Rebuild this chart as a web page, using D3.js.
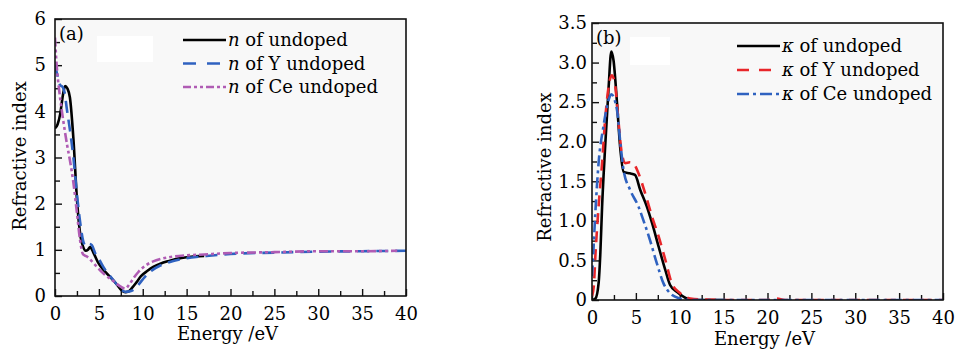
<!DOCTYPE html>
<html>
<head>
<meta charset="utf-8">
<script src="https://cdn.jsdelivr.net/npm/d3@7"></script>
<style>
  body { margin: 0; background: #fff; }
  svg { display: block; font-family: "DejaVu Serif", serif; }
</style>
</head>
<body>
<div class="mainDiv"></div>
<script>
// panel (a) : refractive index n
const energyA_undoped = [0, 0.3, 0.6, 0.9, 1.15, 1.4, 1.7, 2.1, 2.5, 2.9, 3.2, 3.5, 3.75, 4.0, 4.4, 4.9, 5.5, 6.2, 7.0, 7.6, 8.0, 8.4, 8.8, 9.3, 9.8, 10.5, 11.2, 12.0, 13.0, 14.0, 15.0, 16.0, 17.0];
const nUndoped = [3.63, 3.72, 3.95, 4.35, 4.55, 4.5, 4.3, 3.4, 2.1, 1.3, 1.07, 0.98, 1.0, 1.06, 0.93, 0.73, 0.57, 0.43, 0.26, 0.12, 0.08, 0.1, 0.18, 0.3, 0.43, 0.54, 0.63, 0.7, 0.76, 0.81, 0.84, 0.86, 0.87];

const energyA_Y = [0, 0.25, 0.55, 0.9, 1.1, 1.35, 1.7, 2.1, 2.5, 2.9, 3.2, 3.5, 3.9, 4.2, 4.6, 5.0, 5.6, 6.2, 7.0, 7.6, 8.0, 8.5, 9.0, 9.5, 10.0, 10.5, 11.0, 12.0, 13.0, 15.0, 17.0, 20.0, 25.0, 30.0, 35.0, 40.0];
const nY = [5.0, 4.8, 4.58, 4.52, 4.4, 4.05, 3.6, 3.0, 2.2, 1.55, 1.2, 1.08, 1.13, 1.1, 0.92, 0.8, 0.6, 0.45, 0.26, 0.13, 0.09, 0.1, 0.14, 0.24, 0.36, 0.47, 0.55, 0.66, 0.73, 0.82, 0.86, 0.91, 0.94, 0.96, 0.97, 0.98];

const energyA_Ce = [0, 0.2, 0.45, 0.75, 1.1, 1.4, 1.7, 2.1, 2.5, 2.85, 3.2, 3.6, 4.4, 5.5, 6.6, 7.6, 8.0, 8.5, 9.0, 9.5, 10.4, 11.2, 12.0, 13.0, 15.0, 17.0, 20.0, 25.0, 30.0, 35.0, 39.0];
const nCe = [5.6, 4.97, 4.5, 4.05, 3.6, 3.25, 2.94, 2.45, 1.8, 1.22, 0.9, 0.86, 0.71, 0.49, 0.33, 0.19, 0.16, 0.26, 0.4, 0.52, 0.67, 0.75, 0.8, 0.84, 0.88, 0.9, 0.93, 0.95, 0.97, 0.97, 0.98];

// panel (b) : extinction coefficient kappa
const energyB_undoped = [0, 0.4, 0.75, 0.95, 1.15, 1.5, 1.9, 2.2, 2.45, 2.85, 3.2, 3.6, 4.3, 4.9, 5.5, 6.25, 6.85, 7.6, 8.35, 8.9, 9.7, 10.8, 12, 15];
const kUndoped = [0, 0.02, 0.21, 0.59, 1.18, 1.94, 2.7, 3.14, 3.03, 2.49, 1.94, 1.62, 1.6, 1.58, 1.39, 1.18, 0.97, 0.67, 0.38, 0.19, 0.1, 0.02, 0, 0];

const energyB_Y = [0, 0.2, 0.4, 0.75, 1.15, 1.5, 1.9, 2.25, 2.65, 3.0, 3.4, 3.8, 4.3, 4.75, 5.3, 6.05, 6.85, 7.6, 8.35, 9.1, 10.05, 11.2, 13, 16, 20, 21, 22, 25, 30, 35, 40];
const kY = [0.05, 0.17, 0.59, 1.18, 1.73, 2.28, 2.7, 2.84, 2.7, 2.28, 1.85, 1.73, 1.74, 1.72, 1.6, 1.35, 1.05, 0.8, 0.51, 0.21, 0.085, 0.02, 0.005, 0, 0, 0.02, 0, 0, 0, 0, 0];

const energyB_Ce = [0, 0.15, 0.38, 0.75, 1.3, 1.9, 2.2, 2.85, 3.2, 3.6, 4.35, 5.3, 5.85, 6.6, 7.4, 8.15, 8.9, 10, 11, 15, 20, 25, 30, 35, 40];
const kCe = [0.3, 0.6, 1.1, 1.73, 2.19, 2.53, 2.6, 2.4, 2.02, 1.64, 1.39, 1.18, 1.01, 0.76, 0.46, 0.21, 0.085, 0.02, 0, 0, 0, 0, 0, 0, 0];

const xTicks = [0, 5, 10, 15, 20, 25, 30, 35, 40];
const yTicksA = [0, 1, 2, 3, 4, 5, 6];
const yTicksB = [0, 0.5, 1.0, 1.5, 2.0, 2.5, 3.0, 3.5];

const svg = d3.select('.mainDiv').append('svg')
  .attr('width', 957).attr('height', 349);

const FS = 18;

function panel(opt) {
  const x = d3.scaleLinear().domain([0, 40]).range([opt.left, opt.right]);
  const y = d3.scaleLinear().domain([0, opt.ymax]).range([opt.bottom, opt.top]);
  const g = svg.append('g');

  g.append('rect')
    .attr('x', opt.left).attr('y', opt.top)
    .attr('width', opt.right - opt.left).attr('height', opt.bottom - opt.top)
    .attr('fill', '#f8f8f8');
  // white patch next to the panel letter
  g.append('rect')
    .attr('x', opt.patch[0]).attr('y', opt.patch[1])
    .attr('width', opt.patch[2]).attr('height', opt.patch[3])
    .attr('fill', '#fff');

  const clipId = 'clip' + opt.name;
  svg.append('clipPath').attr('id', clipId).append('rect')
    .attr('x', opt.left).attr('y', opt.top - 2)
    .attr('width', opt.right - opt.left).attr('height', opt.bottom - opt.top + 2);

  //minor ticks
  const minorX = d3.range(2.5, 40, 5);
  g.append('g').attr('transform', `translate(0,${opt.bottom})`)
    .call(d3.axisBottom(x).tickValues(minorX).tickSize(-5).tickFormat(''))
    .call(a => a.select('.domain').remove());
  g.append('g').attr('transform', `translate(${opt.left},0)`)
    .call(d3.axisLeft(y).tickValues(opt.minorY).tickSize(-5).tickFormat(''))
    .call(a => a.select('.domain').remove());

  const xAxis = g.append('g').attr('transform', `translate(0,${opt.bottom})`)
    .call(d3.axisBottom(x).tickValues(xTicks).tickSize(-7).tickPadding(11));
  const yAxis = g.append('g').attr('transform', `translate(${opt.left},0)`)
    .call(d3.axisLeft(y).tickValues(opt.yTicks).tickSize(-7).tickPadding(opt.ypad)
      .tickFormat(opt.fmt));
  [xAxis, yAxis].forEach(a => {
    a.select('.domain').remove();
    a.selectAll('text').attr('font-family', '"DejaVu Serif", serif')
      .attr('font-size', FS).attr('fill', '#000');
  });
  g.selectAll('.tick line').attr('stroke', '#111').attr('stroke-width', 1.4);

  const line = d3.line()
    .x(d => x(d[0])).y(d => y(d[1]))
    .curve(d3.curveMonotoneX);

  const plot = g.append('g').attr('clip-path', `url(#${clipId})`);
  opt.series.forEach(s => {
    plot.append('path')
      .datum(s.xs.map((v, i) => [v, s.ys[i]]))
      .attr('d', line)
      .attr('fill', 'none')
      .attr('stroke', s.color)
      .attr('stroke-width', 2.6)
      .attr('stroke-dasharray', s.dash)
      .attr('stroke-linejoin', 'round');
  });

  // frame
  g.append('rect')
    .attr('x', opt.left).attr('y', opt.top)
    .attr('width', opt.right - opt.left).attr('height', opt.bottom - opt.top)
    .attr('fill', 'none').attr('stroke', '#111').attr('stroke-width', 1.6);

  // panel letter
  g.append('text').attr('x', opt.left + 4).attr('y', opt.top + 21)
    .attr('font-size', FS).attr('fill', '#000').text(opt.letter);

  // legend
  opt.series.forEach((s, i) => {
    const ly = opt.legY + i * opt.legStep;
    g.append('line')
      .attr('x1', opt.legX).attr('x2', opt.legX + 43)
      .attr('y1', ly).attr('y2', ly)
      .attr('stroke', s.color).attr('stroke-width', 2.6)
      .attr('stroke-dasharray', s.legDash);
    const t = g.append('text').attr('x', opt.legX + 45).attr('y', ly + 6)
      .attr('font-size', FS).attr('fill', '#000');
    t.append('tspan').attr('font-style', 'italic').text(opt.sym);
    t.append('tspan').text(s.label);
  });

  // axis titles
  g.append('text')
    .attr('x', (opt.left + opt.right) / 2 - 3).attr('y', opt.xlabY)
    .attr('text-anchor', 'middle').attr('font-size', FS).attr('fill', '#000')
    .text('Energy /eV');
  g.append('text')
    .attr('transform', `translate(${opt.ylabX},${opt.ylabCy}) rotate(-90)`)
    .attr('text-anchor', 'middle').attr('font-size', FS).attr('fill', '#000')
    .text('Refractive index');
}

panel({
  name: 'A', letter: '(a)', sym: 'n',
  left: 55, right: 406, top: 19, bottom: 296, ymax: 6,
  yTicks: yTicksA, minorY: d3.range(0.5, 6, 1), fmt: d3.format('d'), ypad: 9,
  patch: [97, 36, 56, 26],
  legX: 183, legY: 40, legStep: 23.5,
  xlabY: 340, ylabX: 26, ylabCy: 156,
  series: [
    { xs: energyA_undoped, ys: nUndoped, color: '#000', dash: null, legDash: null, label: ' of undoped' },
    { xs: energyA_Y, ys: nY, color: '#2f62c0', dash: '12,7', legDash: '13,11', label: ' of Y undoped' },
    { xs: energyA_Ce, ys: nCe, color: '#b05cb4', dash: '9,3,3,3,3,3', legDash: '8,3,3,3,3,3', label: ' of Ce undoped' }
  ]
});

panel({
  name: 'B', letter: '(b)', sym: '\u03ba',
  left: 592, right: 943, top: 23, bottom: 300, ymax: 3.5,
  yTicks: yTicksB, minorY: d3.range(0.25, 3.5, 0.5),
  fmt: d => d === 0 ? '0' : d3.format('.1f')(d), ypad: 5,
  patch: [630, 37, 40, 28],
  legX: 737, legY: 46, legStep: 24,
  xlabY: 345, ylabX: 551, ylabCy: 167,
  series: [
    { xs: energyB_undoped, ys: kUndoped, color: '#000', dash: null, legDash: null, label: ' of undoped' },
    { xs: energyB_Y, ys: kY, color: '#e8262a', dash: '11,7', legDash: '12,10', label: ' of Y undoped' },
    { xs: energyB_Ce, ys: kCe, color: '#2f62c0', dash: '11,4,3,4', legDash: '12,4,3,4', label: ' of Ce undoped' }
  ]
});
</script>
</body>
</html>
